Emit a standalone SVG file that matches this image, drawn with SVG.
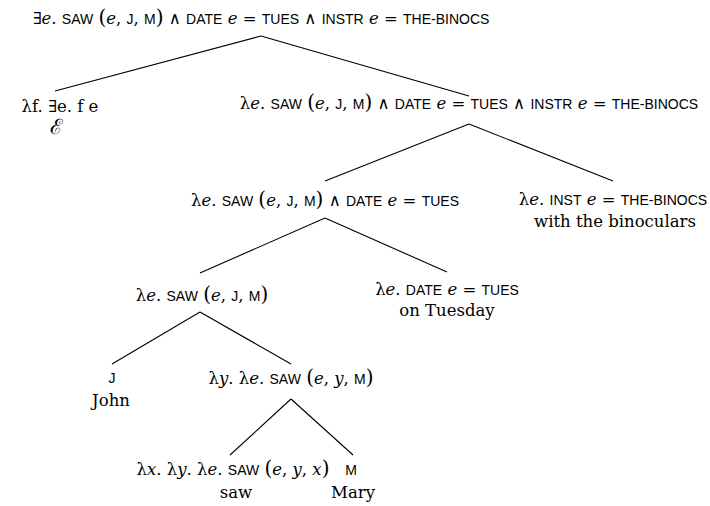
<svg xmlns="http://www.w3.org/2000/svg" width="710" height="506" viewBox="0 0 710 506">
<style>
text{font-family:"DejaVu Serif",serif;font-size:16.5px;fill:#000;text-anchor:middle}
.i{font-style:italic}
.sc{font-family:"Liberation Sans",sans-serif;font-size:14px;font-style:normal}
.p{font-size:20px}
.cal{font-size:21px}
.edges line{stroke:#000;stroke-width:1.1}
</style>
<rect width="710" height="506" fill="#fff"/>
<g class="edges" id="connectors">
<line x1="261" y1="36" x2="55" y2="91"/>
<line x1="261" y1="36" x2="469" y2="96"/>
<line x1="469" y1="124" x2="325" y2="181"/>
<line x1="469" y1="124" x2="613" y2="181"/>
<line x1="325" y1="218" x2="200" y2="273"/>
<line x1="325" y1="218" x2="447" y2="272"/>
<line x1="200" y1="312" x2="112" y2="364"/>
<line x1="200" y1="312" x2="291" y2="364"/>
<line x1="291" y1="399" x2="230" y2="455"/>
<line x1="291" y1="399" x2="353" y2="455"/>
</g>
<g id="root"><text x="261" y="24">∃<tspan class="i">e</tspan>. <tspan class="sc">SAW</tspan> <tspan class="p">(</tspan><tspan class="i">e</tspan>, <tspan class="sc">J</tspan>, <tspan class="sc">M</tspan><tspan class="p">)</tspan> ∧ <tspan class="sc">DATE</tspan> <tspan class="i">e</tspan> = <tspan class="sc">TUES</tspan> ∧ <tspan class="sc">INSTR</tspan> <tspan class="i">e</tspan> = <tspan class="sc">THE-BINOCS</tspan></text></g>
<g id="n-exists"><text x="60" y="112">λf. ∃e. f e</text><text class="cal" x="56" y="134">ℰ</text></g>
<g id="n-vp3"><text x="469" y="109">λ<tspan class="i">e</tspan>. <tspan class="sc">SAW</tspan> <tspan class="p">(</tspan><tspan class="i">e</tspan>, <tspan class="sc">J</tspan>, <tspan class="sc">M</tspan><tspan class="p">)</tspan> ∧ <tspan class="sc">DATE</tspan> <tspan class="i">e</tspan> = <tspan class="sc">TUES</tspan> ∧ <tspan class="sc">INSTR</tspan> <tspan class="i">e</tspan> = <tspan class="sc">THE-BINOCS</tspan></text></g>
<g id="n-vp2"><text x="325" y="206">λ<tspan class="i">e</tspan>. <tspan class="sc">SAW</tspan> <tspan class="p">(</tspan><tspan class="i">e</tspan>, <tspan class="sc">J</tspan>, <tspan class="sc">M</tspan><tspan class="p">)</tspan> ∧ <tspan class="sc">DATE</tspan> <tspan class="i">e</tspan> = <tspan class="sc">TUES</tspan></text></g>
<g id="n-with"><text x="613" y="205">λ<tspan class="i">e</tspan>. <tspan class="sc">INST</tspan> <tspan class="i">e</tspan> = <tspan class="sc">THE-BINOCS</tspan></text><text x="615" y="227">with the binoculars</text></g>
<g id="n-vp1"><text x="202" y="301">λ<tspan class="i">e</tspan>. <tspan class="sc">SAW</tspan> <tspan class="p">(</tspan><tspan class="i">e</tspan>, <tspan class="sc">J</tspan>, <tspan class="sc">M</tspan><tspan class="p">)</tspan></text></g>
<g id="n-tuesday"><text x="447" y="295">λ<tspan class="i">e</tspan>. <tspan class="sc">DATE</tspan> <tspan class="i">e</tspan> = <tspan class="sc">TUES</tspan></text><text x="447" y="316">on Tuesday</text></g>
<g id="n-john"><text x="112" y="383"><tspan class="sc">J</tspan></text><text x="111" y="406">John</text></g>
<g id="n-vbar"><text x="291" y="384">λ<tspan class="i">y</tspan>. λ<tspan class="i">e</tspan>. <tspan class="sc">SAW</tspan> <tspan class="p">(</tspan><tspan class="i">e</tspan>, <tspan class="i">y</tspan>, <tspan class="sc">M</tspan><tspan class="p">)</tspan></text></g>
<g id="n-saw"><text x="233" y="475">λ<tspan class="i">x</tspan>. λ<tspan class="i">y</tspan>. λ<tspan class="i">e</tspan>. <tspan class="sc">SAW</tspan> <tspan class="p">(</tspan><tspan class="i">e</tspan>, <tspan class="i">y</tspan>, <tspan class="i">x</tspan><tspan class="p">)</tspan></text><text x="236" y="498">saw</text></g>
<g id="n-mary"><text x="351" y="475"><tspan class="sc">M</tspan></text><text x="353" y="498">Mary</text></g>
</svg>
